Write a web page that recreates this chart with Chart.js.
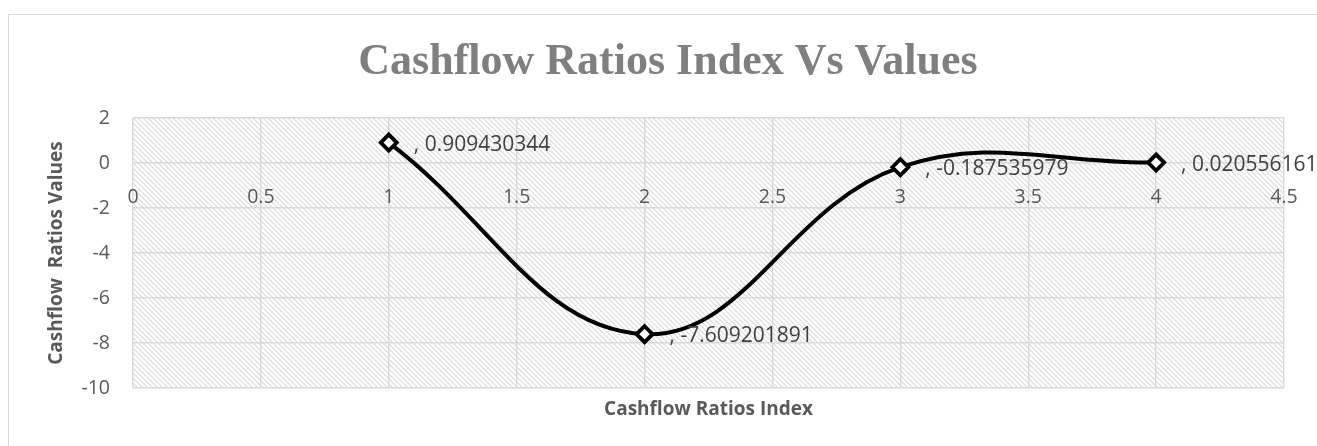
<!DOCTYPE html>
<html>
<head>
<meta charset="utf-8">
<script src="https://cdn.jsdelivr.net/npm/chart.js@4.4.1/dist/chart.umd.min.js"></script>
<style>
    html, body { margin: 0; padding: 0; background: #fff; overflow: hidden; }
    body { width: 1317px; height: 446px; position: relative; }
    .frame {
        position: absolute; left: 8px; top: 14px;
        width: 1400px; height: 600px;
        border: 1.5px solid #d9d9d9; box-sizing: border-box;
    }
    #cashflowChart { position: absolute; left: 0; top: 0; }
</style>
</head>
<body>
<div class="frame"></div>
<canvas id="cashflowChart" width="1336" height="446"></canvas>
<script>
const ratioIndex = [1, 2, 3, 4];
const ratioValues = [0.909430344, -7.609201891, -0.187535979, 0.020556161];
const xTicks = [0, 0.5, 1, 1.5, 2, 2.5, 3, 3.5, 4, 4.5];
const yTicks = [-10, -8, -6, -4, -2, 0, 2];

const gridColor = '#d9d9d9';
const tickColor = '#595959';

// diagonal hatch behind the plot area
const hatchBackground = {
    id: 'hatchBackground',
    beforeDraw(chart) {
        const { ctx, chartArea: a } = chart;
        const n = 5;
        const tile = document.createElement('canvas');
        tile.width = n; tile.height = n;
        const t = tile.getContext('2d');
        t.strokeStyle = '#dadada';
        t.lineWidth = 1.1;
        t.beginPath();
        t.moveTo(-1, -1); t.lineTo(n + 1, n + 1);
        t.moveTo(-1, n - 1); t.lineTo(1, n + 1);
        t.moveTo(n - 1, -1); t.lineTo(n + 1, 1);
        t.stroke();
        ctx.save();
        ctx.fillStyle = ctx.createPattern(tile, 'repeat');
        ctx.fillRect(a.left, a.top, a.width, a.height);
        ctx.restore();
    }
};

// ", value" labels to the right of each point
const pointLabels = {
    id: 'pointLabels',
    afterDatasetsDraw(chart) {
        const { ctx } = chart;
        const meta = chart.getDatasetMeta(0);
        ctx.save();
        ctx.font = '21px "Open Sans"';
        ctx.fillStyle = '#404040';
        ctx.textAlign = 'left';
        ctx.textBaseline = 'middle';
        meta.data.forEach((pt, i) => {
            ctx.fillText(', ' + ratioValues[i], pt.x + 25, pt.y + 2);
        });
        ctx.restore();
    }
};

new Chart(document.getElementById('cashflowChart'), {
    type: 'scatter',
    data: {
        datasets: [{
            data: ratioIndex.map((x, i) => ({ x: x, y: ratioValues[i] })),
            showLine: true,
            borderColor: '#000',
            borderWidth: 4,
            tension: 0.4,
            pointStyle: 'rectRot',
            pointRadius: 8,
            pointBackgroundColor: '#fff',
            pointBorderColor: '#000',
            pointBorderWidth: 3.8
        }]
    },
    options: {
        responsive: false,
        animation: false,
        layout: { padding: { left: 52, right: 52, top: 0, bottom: 0 } },
        plugins: {
            legend: { display: false },
            tooltip: { enabled: false },
            title: {
                display: true,
                text: 'Cashflow Ratios Index Vs Values',
                color: '#7f7f7f',
                font: { family: '"Liberation Serif"', size: 44, weight: 'bold', lineHeight: 1.2 },
                padding: { top: 36, bottom: 29.2 }
            }
        },
        scales: {
            x: {
                type: 'linear',
                position: { y: 0 },
                min: 0,
                max: 4.5,
                afterBuildTicks: s => { s.ticks = xTicks.map(v => ({ value: v })); },
                grid: { color: gridColor, lineWidth: 1.4, drawTicks: false },
                border: { display: false },
                ticks: {
                    color: tickColor,
                    font: { family: '"Open Sans"', size: 19.5 },
                    padding: 23,
                    maxRotation: 0,
                    autoSkip: false,
                    callback: v => String(v)
                }
            },
            xt: {
                type: 'linear',
                position: 'bottom',
                min: 0,
                max: 4.5,
                ticks: { display: false },
                grid: { display: false, drawTicks: false },
                border: { display: false },
                title: {
                    display: true,
                    text: 'Cashflow Ratios Index',
                    color: tickColor,
                    font: { family: '"Open Sans"', size: 19, weight: 'bold', lineHeight: 1.2 },
                    padding: { top: 10.6, bottom: 24.6 }
                },
                afterFit: s => { s.height = 58; }
            },
            y: {
                min: -10,
                max: 2,
                afterBuildTicks: s => { s.ticks = yTicks.map(v => ({ value: v })); },
                afterFit: s => { s.width = 81; },
                grid: { color: gridColor, lineWidth: 1.4, drawTicks: false },
                border: { display: false },
                ticks: {
                    color: tickColor,
                    font: { family: '"Open Sans"', size: 19.5 },
                    padding: 23,
                    callback: v => String(v)
                },
                title: {
                    display: true,
                    text: 'Cashflow  Ratios Values',
                    color: tickColor,
                    font: { family: '"Open Sans"', size: 19, weight: 'bold', lineHeight: 1.2 },
                    padding: { top: -6.4, bottom: 0 }
                }
            }
        }
    },
    plugins: [hatchBackground, pointLabels]
});
</script>
</body>
</html>
